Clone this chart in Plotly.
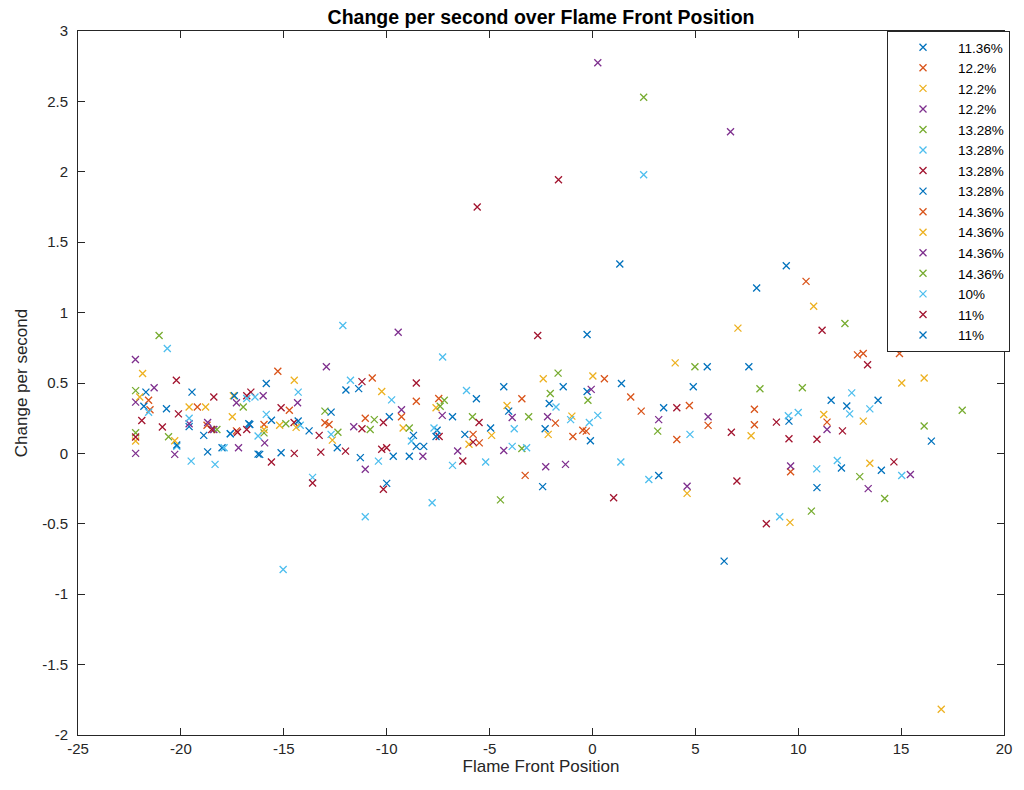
import plotly.graph_objects as go

# ---- data (x = Flame Front Position, y = Change per second) ----
series_names = ["11.36%", "12.2%", "12.2%", "12.2%", "13.28%", "13.28%", "13.28%", "13.28%",
                "14.36%", "14.36%", "14.36%", "14.36%", "10%", "11%", "11%"]

x_1136 = [-21.7, -19.46, -18.0, -16.7, -19.6, -15.6, -13.77, -12.4, -9.87, -9.68, -10.0, -4.31, -0.26,
          -7.55, -2.3, -2.42, 4.9, 3.46, 7.98, 13.88, 14.04, 1.33]
y_1136 = [0.435, 0.435, 0.04, 0.21, 0.19, 0.236, 0.16, 0.04, 0.26, -0.02, -0.213, 0.473, 0.44,
          0.165, 0.175, -0.236, 0.473, 0.324, 1.175, 0.378, -0.12, 1.345]

x_122a = [-21.57, -19.2, -17.3, -14.73, -8.56, -13.0, -11.04, -3.43, -1.8, -0.47, -5.5, 0.58, 2.37,
          5.62, 7.87, -0.3, 12.88, 14.92, 9.63]
y_122a = [0.378, 0.33, 0.16, 0.307, 0.37, 0.218, 0.25, 0.388, 0.215, 0.165, 0.075, 0.53, 0.30,
          0.199, 0.314, 0.158, 0.70, 0.71, -0.13]

x_122b = [-21.86, -22.2, -18.8, -17.45, -14.49, -15.2, -12.64, -9.2, 0.02, -4.15, -4.9, -6.0, 4.02,
          4.6, 15.03, 13.16, 13.48, 16.95]
y_122b = [0.567, 0.088, 0.33, 0.41, 0.52, 0.2, 0.094, 0.18, 0.55, 0.34, 0.128, 0.065, 0.643,
          -0.284, 0.50, 0.229, -0.07, -1.817]

x_122c = [-22.21, -22.2, -17.3, -19.6, -18.4, -9.44, -16.0, -15.93, -9.28, -11.04, -7.3, -2.18, -6.55,
          -1.31, 5.62, 11.4, 15.45, 0.26]
y_122c = [0.667, 0.364, 0.36, 0.21, 0.17, 0.86, 0.41, 0.075, 0.31, -0.113, 0.27, 0.26, 0.017,
          -0.078, 0.26, 0.17, -0.15, 2.775]

x_1328a = [-21.06, -22.2, -16.97, -15.96, -13.0, -10.8, -8.9, -2.05, -7.2, -5.83, -3.43, 4.98, 12.27,
           10.2, 12.99, 10.64, 2.49]
y_1328a = [0.837, 0.147, 0.33, 0.146, 0.30, 0.17, 0.18, 0.425, 0.378, 0.26, 0.035, 0.615, 0.922,
           0.466, -0.165, -0.41, 2.53]

x_1328b = [-20.66, -20.2, -18.34, -17.6, -19.6, -14.3, -11.76, -15.85, -14.2, -8.8, -13.6, -7.28, -1.77,
           -7.7, -0.15, -3.2, -5.19, 0.26, 1.38, 12.6, 13.48, 10.0, 11.9, -15.03, 2.49]
y_1328b = [0.745, 0.05, -0.078, 0.14, 0.25, 0.435, 0.52, 0.277, 0.2, 0.088, -0.17, 0.685, 0.33,
           0.18, 0.22, 0.04, -0.061, 0.27, -0.061, 0.43, 0.316, 0.29, -0.05, -0.824, 1.979]

x_1328c = [-20.22, -21.9, -22.2, -16.8, -17.25, -16.6, -8.56, -14.5, -14.49, -13.2, -11.2, -10.24, -13.6,
           -2.66, -7.45, -6.3, 6.75, 7.02, 13.37, 12.15, 10.91, -1.65, 8.45]
y_1328c = [0.52, 0.234, 0.117, 0.41, 0.15, 0.435, 0.50, 0.22, 0.0, 0.009, 0.175, 0.03, -0.21,
           0.837, 0.12, -0.054, 0.15, -0.196, 0.63, 0.16, 0.10, 1.943, -0.5]

x_1328d = [-21.8, -18.89, -17.6, -20.2, -15.85, -14.3, -16.17, -11.98, -8.7, -8.9, -0.26, -5.64, -6.8,
           -7.6, -0.1, -8.2, 5.58, 3.22, 11.6, 9.55, 10.91, 6.4]
y_1328d = [0.335, 0.128, 0.14, 0.06, 0.496, 0.23, -0.007, 0.45, 0.128, -0.02, 0.844, 0.388, 0.26,
           0.12, 0.09, 0.05, 0.615, -0.157, 0.378, 0.229, -0.243, -0.765]

x_1436a = [-21.5, -18.73, -15.29, -10.7, -15.96, -12.8, -9.28, -7.47, -0.95, -5.8, -3.27, 1.86, 4.71,
           4.1, 7.87, 10.38, 13.16, 11.4]
y_1436a = [0.31, 0.2, 0.584, 0.536, 0.205, 0.205, 0.26, 0.39, 0.12, 0.135, -0.156, 0.40, 0.34,
           0.099, 0.203, 1.222, 0.71, 0.222]

x_1436b = [-22.0, -19.6, -17.5, -20.3, -15.96, -14.4, -10.24, -2.39, -7.6, -1.0, -2.15, 7.07, 7.71,
           10.75, 16.12, 11.24, 9.6]
y_1436b = [0.40, 0.33, 0.26, 0.09, 0.17, 0.185, 0.44, 0.53, 0.324, 0.265, 0.135, 0.89, 0.125,
           1.045, 0.536, 0.276, -0.49]

x_1436c = [-21.3, -22.2, -20.3, -18.7, -17.2, -12.93, -14.33, -11.6, -8.24, -0.06, -3.9, -4.31, -2.27,
           3.22, 4.6, 9.63, 13.4, 6.71]
y_1436c = [0.466, 0.0, -0.007, 0.22, 0.04, 0.615, 0.36, 0.189, -0.02, 0.455, 0.255, 0.02, -0.095,
           0.24, -0.233, -0.09, -0.25, 2.284]

x_1436d = [-22.2, -20.6, -18.25, -14.9, -12.37, -10.6, -1.67, -0.22, -7.4, -3.1, -4.47, 3.17, 8.14,
           16.12, 14.2, 17.97]
y_1436d = [0.446, 0.118, 0.17, 0.21, 0.15, 0.24, 0.57, 0.378, 0.335, 0.26, -0.33, 0.158, 0.459,
           0.194, -0.32, 0.307]

x_10 = [-21.57, -19.5, -17.9, -16.8, -12.13, -16.4, -9.76, -16.25, -12.7, -10.4, -11.04, -6.12, -1.06,
        -3.8, -3.9, -6.8, -7.79, 4.74, 2.74, 12.5, 9.52, 10.9, 15.03, 9.1]
y_10 = [0.292, -0.055, 0.04, 0.39, 0.908, 0.40, 0.38, 0.123, 0.135, -0.055, -0.45, 0.447, 0.24,
        0.175, 0.05, -0.085, -0.35, 0.135, -0.185, 0.281, 0.268, -0.11, -0.157, -0.45]

x_11a = [-20.12, -20.9, -18.4, -18.5, -16.8, -11.2, -15.13, -13.28, -15.6, -12.0, -10.16, -10.0, -10.16,
         -5.51, -5.8, 4.1, 1.03, 11.16, 8.94, 9.55, 14.65, -5.6]
y_11a = [0.281, 0.187, 0.40, 0.17, 0.17, 0.51, 0.324, 0.128, -0.061, 0.016, 0.22, 0.04, -0.255,
         0.22, 0.08, 0.324, -0.315, 0.875, 0.222, 0.104, -0.06, 1.75]

x_11b = [-20.7, -18.7, -17.4, -16.25, -16.65, -12.7, -15.13, -11.36, -8.56, -11.28, -1.42, -2.1, -4.07,
         -4.95, -6.2, 1.41, 7.6, 9.42, 12.36, 12.1, 16.47]
y_11b = [0.317, 0.011, 0.41, -0.005, 0.205, 0.293, 0.005, 0.46, 0.05, -0.03, 0.473, 0.354, 0.30,
         0.18, 0.135, 0.496, 0.615, 1.333, 0.337, -0.104, 0.087]

x_ticks = [-25, -20, -15, -10, -5, 0, 5, 10, 15, 20]
x_tick_labels = ["-25", "-20", "-15", "-10", "-5", "0", "5", "10", "15", "20"]
y_ticks = [-2, -1.5, -1, -0.5, 0, 0.5, 1, 1.5, 2, 2.5, 3]
y_tick_labels = ["-2", "-1.5", "-1", "-0.5", "0", "0.5", "1", "1.5", "2", "2.5", "3"]

series_x = [x_1136, x_122a, x_122b, x_122c, x_1328a, x_1328b, x_1328c, x_1328d,
            x_1436a, x_1436b, x_1436c, x_1436d, x_10, x_11a, x_11b]
series_y = [y_1136, y_122a, y_122b, y_122c, y_1328a, y_1328b, y_1328c, y_1328d,
            y_1436a, y_1436b, y_1436c, y_1436d, y_10, y_11a, y_11b]

# MATLAB default colour order
colors = ["#0072BD", "#D95319", "#EDB120", "#7E2F8E", "#77AC30", "#4DBEEE", "#A2142F"]

FONT = "Liberation Sans, Arial, Helvetica, sans-serif"
AXC = "#262626"

fig = go.Figure()
for i, (name, xs, ys) in enumerate(zip(series_names, series_x, series_y)):
    fig.add_trace(go.Scatter(
        x=xs, y=ys, mode="markers", name=name,
        marker=dict(symbol="x-thin", size=7, color=colors[i % 7],
                    line=dict(width=1.3, color=colors[i % 7])),
    ))

fig.update_layout(
    width=1024, height=790, autosize=False,
    paper_bgcolor="white", plot_bgcolor="white",
    margin=dict(l=78, r=12, t=31, b=55),
    font=dict(family=FONT, size=15, color=AXC),
    title=dict(text="Change per second over Flame Front Position",
               x=0.5, xref="paper", xanchor="center",
               y=1 - 17 / 790, yref="container", yanchor="middle",
               font=dict(family=FONT, size=19.5, color="black", weight="bold")),
    showlegend=True,
    legend=dict(x=(894 - 78) / 934, y=1, xanchor="left", yanchor="top",
                bgcolor="white", bordercolor=AXC, borderwidth=1,
                font=dict(family=FONT, size=13.5, color="black"),
                itemwidth=60, tracegroupgap=0),
)
fig.update_xaxes(range=[-25, 20], tickvals=x_ticks, ticktext=x_tick_labels,
                 showline=True, linecolor=AXC, linewidth=1, mirror="ticks",
                 ticks="inside", ticklen=7, tickcolor=AXC, showgrid=False, zeroline=False,
                 title=dict(text="Flame Front Position", font=dict(size=17, color=AXC), standoff=0))
fig.update_yaxes(range=[-2, 3], tickvals=y_ticks, ticktext=y_tick_labels,
                 showline=True, linecolor=AXC, linewidth=1, mirror="ticks",
                 ticks="inside", ticklen=7, tickcolor=AXC, showgrid=False, zeroline=False,
                 ticklabelstandoff=6,
                 title=dict(text="Change per second", font=dict(size=17, color=AXC), standoff=10))

fig.write_html("out.html", config={"displayModeBar": False},
               post_script="document.body.style.margin='0';")
